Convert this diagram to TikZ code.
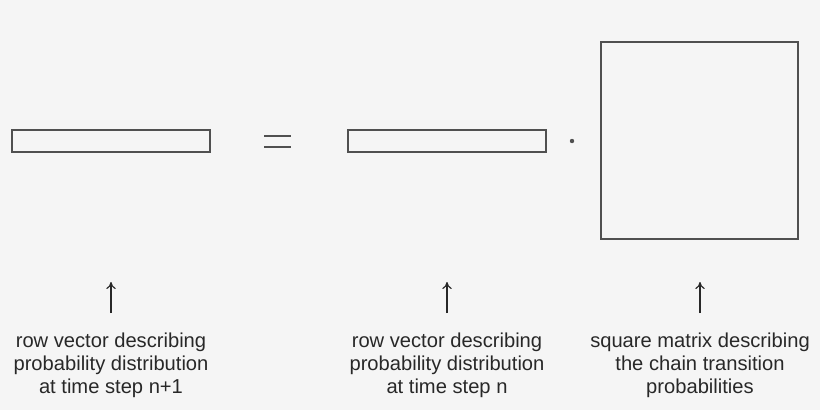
\documentclass[tikz,border=0pt]{standalone}
\usepackage{fontspec}
\setmainfont{Liberation Sans}
\usetikzlibrary{positioning,arrows.meta}
\definecolor{bgGray}{RGB}{245,245,245}
\definecolor{lineGray}{RGB}{80,80,80}
\definecolor{textGray}{RGB}{40,40,40}

\begin{document}
\begin{tikzpicture}[x=0.03cm,y=-0.03cm,
	box/.style={draw=lineGray, line width=2.1pt},
	caption/.style={align=center, text=textGray, font=\fontsize{17.2}{19.6}\selectfont, inner sep=0},
	pointer/.style={-{To[length=6pt,width=8pt]}, line width=1pt, textGray}
	]
	\fill [bgGray] (0,0) rectangle (820,410);
	
	\draw [box] (12,130) rectangle (210,152);
	\draw [box] (348,130) rectangle (546,152);
	\draw [box] (601,42) rectangle (798,239);
	
	\draw [line width=1.7pt, lineGray] (264,136) -- (291,136) (264,147) -- (291,147);
	\fill [lineGray] (572,141) circle (2.2);
	
	\foreach \name/\x in {next/111, now/447, mat/700} {
		\coordinate (\name top) at (\x,282);
		\coordinate (\name bot) at (\x,313);
		\draw [pointer] (\name bot) -- (\name top);
	}
	
	\node (capnext) at (111,365) [caption] {row vector describing\\probability distribution\\at time step n+1};
	\node (capnow) at (447,365) [caption] {row vector describing\\probability distribution\\at time step n};
	\node (capmat) at (700,365) [caption] {square matrix describing\\the chain transition\\probabilities};
\end{tikzpicture}
\end{document}
